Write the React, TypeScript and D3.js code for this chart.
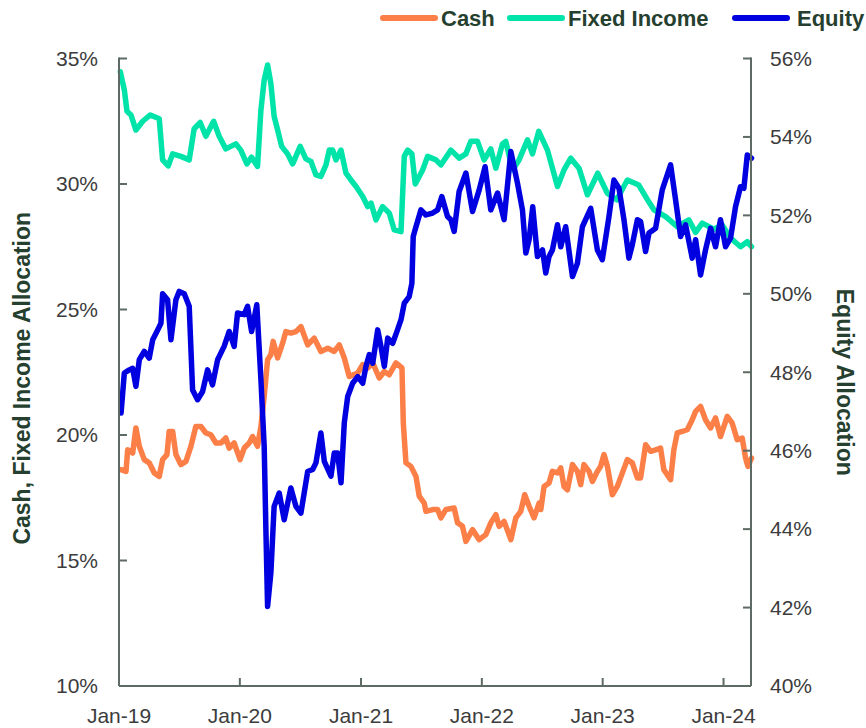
import React from "react";
import * as d3 from "d3";

// decimal year -> value
const cash: [number, number][] = [
  [2019.017, 18.62], [2019.058, 18.55], [2019.072, 19.41], [2019.113, 19.28], [2019.14, 20.28],
  [2019.168, 19.55], [2019.209, 19.02], [2019.25, 18.89], [2019.292, 18.49], [2019.333, 18.35],
  [2019.361, 19.02], [2019.397, 19.22], [2019.415, 20.14], [2019.444, 20.14], [2019.471, 19.22],
  [2019.512, 18.82], [2019.554, 18.95], [2019.595, 19.55], [2019.636, 20.34], [2019.678, 20.34],
  [2019.719, 20.08], [2019.76, 20.01], [2019.802, 19.68], [2019.843, 19.68], [2019.884, 19.88],
  [2019.912, 19.48], [2019.953, 19.68], [2020.002, 19.02], [2020.036, 19.48], [2020.077, 19.68],
  [2020.105, 19.94], [2020.146, 19.55], [2020.174, 20.34], [2020.201, 21.54], [2020.229, 23.0],
  [2020.256, 23.2], [2020.275, 23.73], [2020.312, 23.07], [2020.353, 23.66], [2020.38, 24.12],
  [2020.421, 24.06], [2020.463, 24.12], [2020.504, 24.32], [2020.56, 23.59], [2020.614, 23.86],
  [2020.669, 23.33], [2020.725, 23.46], [2020.779, 23.33], [2020.821, 23.59], [2020.862, 23.07],
  [2020.903, 22.33], [2020.973, 22.47], [2021.014, 22.8], [2021.055, 22.67], [2021.097, 22.87],
  [2021.151, 22.27], [2021.193, 22.53], [2021.234, 22.4], [2021.289, 22.87], [2021.339, 22.67],
  [2021.35, 20.48], [2021.372, 18.89], [2021.413, 18.75], [2021.455, 18.35], [2021.482, 17.56],
  [2021.523, 17.29], [2021.537, 16.96], [2021.593, 17.03], [2021.634, 17.03], [2021.661, 16.7],
  [2021.702, 17.03], [2021.771, 17.09], [2021.799, 16.5], [2021.84, 16.36], [2021.868, 15.76],
  [2021.923, 16.23], [2021.978, 15.83], [2022.033, 16.03], [2022.074, 16.5], [2022.116, 16.83],
  [2022.143, 16.36], [2022.184, 16.56], [2022.24, 15.83], [2022.281, 16.7], [2022.322, 16.96],
  [2022.355, 17.62], [2022.391, 17.16], [2022.432, 16.7], [2022.474, 17.29], [2022.488, 17.03],
  [2022.515, 17.95], [2022.556, 18.09], [2022.584, 18.55], [2022.626, 18.49], [2022.653, 18.69],
  [2022.68, 17.95], [2022.708, 17.82], [2022.75, 18.82], [2022.791, 18.55], [2022.818, 18.02],
  [2022.845, 18.82], [2022.887, 18.55], [2022.915, 18.15], [2022.956, 18.55], [2022.983, 18.75],
  [2023.011, 19.22], [2023.039, 18.75], [2023.08, 17.62], [2023.121, 17.95], [2023.163, 18.49],
  [2023.204, 19.02], [2023.245, 18.89], [2023.287, 18.29], [2023.314, 18.29], [2023.355, 19.61],
  [2023.397, 19.35], [2023.438, 19.41], [2023.479, 19.48], [2023.506, 18.62], [2023.562, 18.22],
  [2023.589, 19.41], [2023.617, 20.08], [2023.658, 20.14], [2023.7, 20.21], [2023.741, 20.61],
  [2023.769, 20.94], [2023.81, 21.14], [2023.851, 20.61], [2023.893, 20.28], [2023.934, 20.68],
  [2023.975, 19.94], [2024.031, 20.74], [2024.071, 20.48], [2024.113, 19.81], [2024.154, 19.88],
  [2024.182, 19.08], [2024.201, 18.75], [2024.231, 19.08],
];

const fixedIncome: [number, number][] = [
  [2019.011, 34.47], [2019.044, 33.75], [2019.066, 32.9], [2019.099, 32.75], [2019.14, 32.15],
  [2019.196, 32.5], [2019.259, 32.75], [2019.333, 32.6], [2019.361, 30.96], [2019.407, 30.72],
  [2019.444, 31.2], [2019.512, 31.1], [2019.581, 30.96], [2019.622, 32.2], [2019.672, 32.45],
  [2019.719, 31.9], [2019.783, 32.5], [2019.829, 31.9], [2019.884, 31.4], [2019.967, 31.6],
  [2020.008, 31.35], [2020.058, 30.8], [2020.097, 31.07], [2020.146, 30.7], [2020.174, 32.95],
  [2020.201, 34.15], [2020.229, 34.74], [2020.256, 34.0], [2020.283, 32.7], [2020.312, 32.15],
  [2020.345, 31.5], [2020.394, 31.2], [2020.436, 30.8], [2020.498, 31.5], [2020.545, 31.0],
  [2020.587, 30.9], [2020.628, 30.36], [2020.669, 30.3], [2020.711, 30.76], [2020.738, 31.35],
  [2020.766, 31.35], [2020.793, 30.96], [2020.835, 31.35], [2020.876, 30.43], [2020.917, 30.16],
  [2020.959, 29.9], [2021.014, 29.5], [2021.055, 29.1], [2021.083, 29.24], [2021.124, 28.57],
  [2021.179, 29.1], [2021.234, 28.84], [2021.275, 28.17], [2021.331, 28.1], [2021.358, 31.1],
  [2021.386, 31.35], [2021.421, 31.2], [2021.449, 30.0], [2021.51, 30.56], [2021.551, 31.1],
  [2021.62, 30.96], [2021.661, 30.76], [2021.744, 31.35], [2021.812, 31.03], [2021.868, 31.2],
  [2021.909, 31.7], [2021.964, 31.7], [2022.019, 30.96], [2022.074, 31.4], [2022.116, 30.63],
  [2022.171, 31.6], [2022.198, 31.7], [2022.254, 30.56], [2022.308, 30.96], [2022.378, 31.76],
  [2022.419, 31.2], [2022.471, 32.1], [2022.543, 31.35], [2022.626, 29.9], [2022.68, 30.56],
  [2022.736, 31.03], [2022.804, 30.63], [2022.874, 29.57], [2022.959, 30.43], [2023.039, 29.63],
  [2023.116, 29.37], [2023.204, 30.16], [2023.298, 29.96], [2023.38, 29.3], [2023.424, 28.97],
  [2023.521, 28.7], [2023.617, 28.3], [2023.713, 28.57], [2023.769, 28.07], [2023.824, 28.44],
  [2023.92, 28.2], [2023.989, 28.37], [2024.058, 27.85], [2024.14, 27.5], [2024.196, 27.7],
  [2024.231, 27.5],
];

const equity: [number, number][] = [
  [2019.017, 46.96], [2019.044, 47.98], [2019.085, 48.06], [2019.113, 48.1], [2019.14, 47.64],
  [2019.168, 48.32], [2019.209, 48.53], [2019.25, 48.36], [2019.279, 48.83], [2019.32, 49.08],
  [2019.347, 49.25], [2019.361, 50.0], [2019.402, 49.85], [2019.43, 48.83], [2019.471, 49.85],
  [2019.498, 50.06], [2019.54, 50.0], [2019.581, 49.68], [2019.609, 47.55], [2019.65, 47.3],
  [2019.692, 47.51], [2019.733, 48.06], [2019.774, 47.68], [2019.816, 48.32], [2019.87, 48.66],
  [2019.912, 49.04], [2019.953, 48.66], [2019.981, 49.51], [2020.036, 49.47], [2020.064, 49.68],
  [2020.097, 49.04], [2020.14, 49.72], [2020.174, 47.81], [2020.201, 46.11], [2020.215, 43.99],
  [2020.229, 42.03], [2020.256, 42.88], [2020.283, 44.58], [2020.325, 44.92], [2020.366, 44.24],
  [2020.421, 45.05], [2020.463, 44.58], [2020.504, 44.41], [2020.56, 45.47], [2020.601, 45.52],
  [2020.628, 45.69], [2020.669, 46.45], [2020.697, 45.73], [2020.752, 45.35], [2020.779, 45.94],
  [2020.807, 45.94], [2020.835, 45.18], [2020.862, 46.71], [2020.89, 47.38], [2020.931, 47.72],
  [2020.973, 47.89], [2021.014, 47.72], [2021.041, 48.15], [2021.069, 48.45], [2021.097, 48.23],
  [2021.138, 49.08], [2021.165, 48.66], [2021.193, 48.15], [2021.221, 48.87], [2021.262, 48.74],
  [2021.302, 49.08], [2021.331, 49.34], [2021.358, 49.76], [2021.399, 49.93], [2021.421, 50.27],
  [2021.432, 51.46], [2021.455, 51.71], [2021.496, 52.14], [2021.537, 52.01], [2021.593, 52.06],
  [2021.634, 52.14], [2021.669, 52.48], [2021.716, 51.97], [2021.744, 51.89], [2021.771, 51.59],
  [2021.812, 52.61], [2021.868, 53.08], [2021.923, 52.1], [2021.978, 52.65], [2022.027, 53.24],
  [2022.074, 52.14], [2022.13, 52.57], [2022.184, 51.89], [2022.24, 53.63], [2022.295, 52.82],
  [2022.336, 52.14], [2022.364, 51.04], [2022.391, 51.38], [2022.421, 52.22], [2022.46, 50.95],
  [2022.502, 51.12], [2022.529, 50.53], [2022.556, 50.95], [2022.584, 51.12], [2022.626, 51.76],
  [2022.653, 51.2], [2022.694, 51.71], [2022.75, 50.44], [2022.791, 50.78], [2022.832, 51.71],
  [2022.901, 52.18], [2022.956, 51.12], [2022.997, 50.87], [2023.052, 51.97], [2023.093, 52.9],
  [2023.135, 52.69], [2023.176, 51.89], [2023.217, 50.91], [2023.245, 51.25], [2023.287, 51.89],
  [2023.314, 51.84], [2023.355, 51.08], [2023.383, 51.55], [2023.438, 51.67], [2023.493, 52.65],
  [2023.562, 53.29], [2023.603, 52.4], [2023.645, 51.46], [2023.686, 51.76], [2023.741, 50.91],
  [2023.769, 51.38], [2023.81, 50.48], [2023.851, 51.12], [2023.893, 51.67], [2023.934, 51.2],
  [2023.975, 51.89], [2024.017, 51.2], [2024.058, 51.42], [2024.099, 52.22], [2024.14, 52.73],
  [2024.168, 52.69], [2024.196, 53.54], [2024.231, 53.46],
];

const leftTicks = [10, 15, 20, 25, 30, 35];
const rightTicks = [40, 42, 44, 46, 48, 50, 52, 54, 56];
const xTickYears = [2019, 2020, 2021, 2022, 2023, 2024];
const legendNames = ["Cash", "Fixed Income", "Equity"];
const colors = ["#FB7F47", "#00E3A9", "#0000E0"];

const W = 866;
const H = 728;
const margin = { top: 58.5, right: 115, bottom: 42, left: 119 };
const ink = "#26402f";
const tickInk = "#3c3c3c";
const axisInk = "#5e6b65";

function toDate(t: number) {
  const y = Math.floor(t);
  const a = +new Date(y, 0, 1);
  const b = +new Date(y + 1, 0, 1);
  return new Date(a + (t - y) * (b - a));
}

export default function App() {
  const x = d3
    .scaleTime()
    .domain([new Date(2019, 0, 1), new Date(2024, 2, 24)])
    .range([margin.left, W - margin.right]);
  const yL = d3.scaleLinear().domain([10, 35]).range([H - margin.bottom, margin.top]);
  const yR = d3.scaleLinear().domain([40, 56]).range([H - margin.bottom, margin.top]);

  const lineL = d3
    .line<[number, number]>()
    .x((d) => x(toDate(d[0])))
    .y((d) => yL(d[1]));
  const lineR = d3
    .line<[number, number]>()
    .x((d) => x(toDate(d[0])))
    .y((d) => yR(d[1]));

  const x0 = margin.left;
  const x1 = W - margin.right;
  const y0 = H - margin.bottom;
  const y1 = margin.top;
  const fmt = d3.timeFormat("%b-%y");

  const legendLines = [383, 510, 735];
  const legendText = [441, 568, 797];

  return (
    <div style={{ position: "absolute", left: 0, top: 0 }}>
      <svg width={W} height={H} style={{ display: "block", fontFamily: "'Liberation Sans', Arial, sans-serif" }}>
        <rect width={W} height={H} fill="#fff" />

        {/* series */}
        <path d={lineL(cash) || ""} fill="none" stroke={colors[0]} strokeWidth={5.5} strokeLinejoin="round" strokeLinecap="round" />
        <path d={lineL(fixedIncome) || ""} fill="none" stroke={colors[1]} strokeWidth={5.5} strokeLinejoin="round" strokeLinecap="round" />
        <path d={lineR(equity) || ""} fill="none" stroke={colors[2]} strokeWidth={5.5} strokeLinejoin="round" strokeLinecap="round" />

        {/* axes */}
        <g stroke={axisInk} strokeWidth={2} fill="none">
          <line x1={x0} x2={x0} y1={y1 - 1} y2={y0} />
          <line x1={x1} x2={x1} y1={y1 - 1} y2={y0} />
          <line x1={x0} x2={x1} y1={y0} y2={y0} />
          {leftTicks.map((v) => (
            <line key={"l" + v} x1={x0} x2={x0 + 8} y1={yL(v)} y2={yL(v)} />
          ))}
          {rightTicks.map((v) => (
            <line key={"r" + v} x1={x1 - 8} x2={x1} y1={yR(v)} y2={yR(v)} />
          ))}
          {xTickYears.map((yr) => (
            <line key={"x" + yr} x1={x(new Date(yr, 0, 1))} x2={x(new Date(yr, 0, 1))} y1={y0} y2={y0 - 8} />
          ))}
        </g>

        <g fill={tickInk} fontSize={21}>
          {leftTicks.map((v) => (
            <text key={"lt" + v} x={x0 - 21} y={yL(v)} dy="0.35em" textAnchor="end">
              {v}%
            </text>
          ))}
          {rightTicks.map((v) => (
            <text key={"rt" + v} x={x1 + 19} y={yR(v)} dy="0.35em" textAnchor="start">
              {v}%
            </text>
          ))}
          {xTickYears.map((yr) => (
            <text key={"xt" + yr} x={x(new Date(yr, 0, 1))} y={y0 + 37} textAnchor="middle">
              {fmt(new Date(yr, 0, 1))}
            </text>
          ))}
        </g>

        {/* axis titles */}
        <text
          transform={`translate(30,${(y0 + y1) / 2 + 6}) rotate(-90)`}
          textAnchor="middle"
          fontSize={23}
          fontWeight="bold"
          fill={ink}
        >
          Cash, Fixed Income Allocation
        </text>
        <text
          transform={`translate(837,${(y0 + y1) / 2 + 10}) rotate(90)`}
          textAnchor="middle"
          fontSize={23}
          fontWeight="bold"
          fill={ink}
        >
          Equity Allocation
        </text>

        {/* legend */}
        {legendNames.map((name, i) => (
          <g key={name}>
            <line x1={legendLines[i]} x2={legendLines[i] + 52} y1={18} y2={18} stroke={colors[i]} strokeWidth={6} strokeLinecap="round" />
            <text x={legendText[i]} y={26} fontSize={22} fontWeight="bold" fill={ink}>
              {name}
            </text>
          </g>
        ))}
      </svg>
    </div>
  );
}
